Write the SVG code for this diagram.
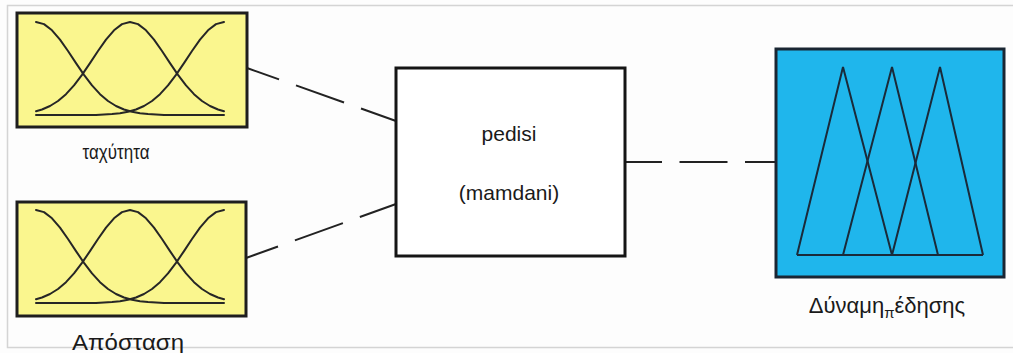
<svg xmlns="http://www.w3.org/2000/svg" xmlns:xlink="http://www.w3.org/1999/xlink" width="1013" height="353" viewBox="0 0 1013 353">
  <style>
    .in { fill: #faf68e; stroke: #1e1e1e; stroke-width: 3; }
    .mid { fill: #ffffff; stroke: #151515; stroke-width: 3; }
    .out { fill: #1fb6ec; stroke: #1a2633; stroke-width: 3; }
    .mf { fill: none; stroke: #262626; stroke-width: 2; stroke-linejoin: round; stroke-linecap: round; }
    .tri { fill: none; stroke: #1a2a3a; stroke-width: 2; stroke-linejoin: miter; }
    .conn { fill: none; stroke: #222222; stroke-width: 2; }
    .lbl { font-family: "Liberation Sans", Arial, sans-serif; fill: #1a1a1a; text-anchor: middle; }
  </style>
  <defs>
    <g id="gauss3">
      <polyline class="mf" points="0,0 8,2.1 16,8.3 24,17.6 32,29 40,41.1 48,52.9 56,63.4 64,72.2 72,79 80,84 88,87.5 96,89.8 104,91.2 112,92 120,92.5 128,93 188,93"/>
      <polyline class="mf" points="0,89.2 6,87.5 14,84 22,79 30,72.2 38,63.4 46,52.9 54,41.1 62,29 70,17.6 78,8.3 86,2.1 94,0 102,2.1 110,8.3 118,17.6 126,29 134,41.1 142,52.9 150,63.4 158,72.2 166,79 174,84 182,87.5 188,89.2"/>
      <polyline class="mf" points="188,0 180,2.1 172,8.3 164,17.6 156,29 148,41.1 140,52.9 132,63.4 124,72.2 116,79 108,84 100,87.5 92,89.8 84,91.2 76,92 68,92.5 60,93 0,93"/>
    </g>
  </defs>
  <rect x="0" y="0" width="1013" height="353" fill="#fdfdfd"/>
  <rect x="7.5" y="5.5" width="1010" height="342" fill="none" stroke="#d4d4d4" stroke-width="1.5"/>

  <g id="connectors">
    <line class="conn" x1="247" y1="68" x2="396" y2="121" stroke-dasharray="51 18" stroke-dashoffset="17"/>
    <line class="conn" x1="246" y1="258" x2="396" y2="204" stroke-dasharray="51 18" stroke-dashoffset="17"/>
    <line class="conn" x1="625" y1="162" x2="776" y2="162" stroke-dasharray="48 17.5" stroke-dashoffset="11"/>
  </g>

  <g id="input-taxytita">
    <rect class="in" x="17" y="13" width="230" height="114"/>
    <use xlink:href="#gauss3" transform="translate(36,22)"/>
    <text class="lbl" x="116" y="159" font-size="20" textLength="67" lengthAdjust="spacingAndGlyphs">ταχύτητα</text>
  </g>

  <g id="input-apostasi">
    <rect class="in" x="17" y="202" width="229" height="114"/>
    <use xlink:href="#gauss3" transform="translate(36,210)"/>
    <text class="lbl" x="128" y="350" font-size="22" textLength="112" lengthAdjust="spacingAndGlyphs">Απόσταση</text>
  </g>

  <g id="fis-pedisi">
    <rect class="mid" x="396" y="68" width="229" height="188"/>
    <text class="lbl" x="509" y="141" font-size="21">pedisi</text>
    <text class="lbl" x="509" y="200" font-size="21">(mamdani)</text>
  </g>

  <g id="output-dynami">
    <rect class="out" x="776" y="49" width="228" height="228"/>
    <polyline class="tri" points="797,255 843,67 892,255"/>
    <polyline class="tri" points="843,255 892,67 938,255"/>
    <polyline class="tri" points="892,255 940,67 983,255"/>
    <line class="tri" x1="797" y1="255" x2="983" y2="255"/>
    <text class="lbl" x="887" y="313" font-size="22">Δύναμη<tspan font-size="15" dy="5">π</tspan><tspan dy="-5">έδησης</tspan></text>
  </g>
</svg>
